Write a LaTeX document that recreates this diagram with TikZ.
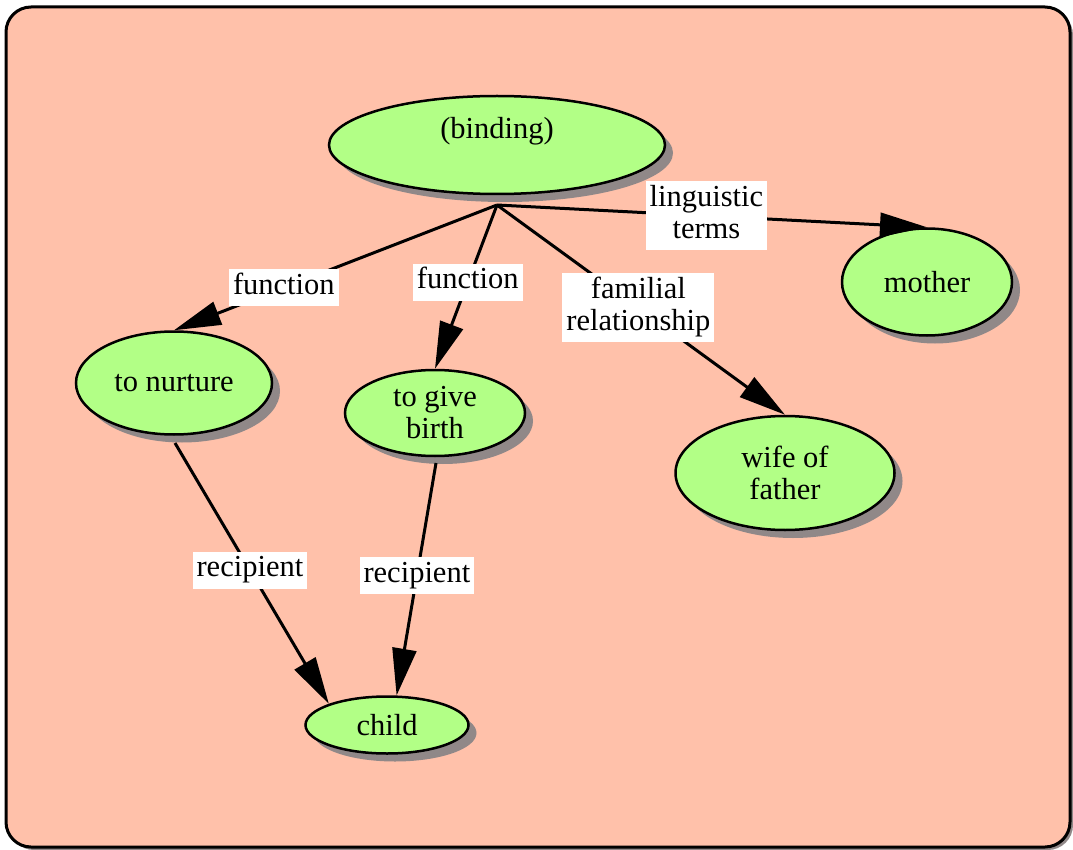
\documentclass[tikz,border=0pt]{standalone}
\usepackage{fontspec}
\setmainfont{Liberation Serif}
\usetikzlibrary{shapes.geometric,arrows.meta,shadows}
\definecolor{bgsalmon}{HTML}{FFC1AA}
\definecolor{nodegreen}{HTML}{B2FF86}
\definecolor{shadowgray}{HTML}{908888}
\tikzset{
  concept/.style={ellipse, draw=black, line width=2.5pt, fill=nodegreen, inner sep=0pt,
    align=center, font=\fontsize{30.5}{32}\selectfont,
    drop shadow={shadow xshift=8pt, shadow yshift=-8pt, fill=shadowgray, opacity=1}},
  link/.style={draw=black, line width=3pt, -{Triangle[length=47pt,width=24pt]}},
  lbl/.style={fill=white, inner xsep=4pt, inner ysep=2.5pt, align=center, font=\fontsize{30.5}{32}\selectfont}
}
\begin{document}
\begin{tikzpicture}[x=1pt,y=-1pt]
\useasboundingbox (0,0) rectangle (1073,850);
% frame
\fill[shadowgray, rounded corners=25pt] (9,10) rectangle (1073,850);
\draw[fill=bgsalmon, line width=3pt, rounded corners=25pt] (6,7) rectangle (1070,847);
% nodes
\node[concept, minimum width=336pt, minimum height=98pt, text height=21pt, text depth=33pt] (binding) at (497,145) {(binding)};
\node[concept, minimum width=170pt, minimum height=107pt] (mother) at (927,282) {mother};
\node[concept, minimum width=196pt, minimum height=103pt] (nurture) at (174,383) {to nurture};
\node[concept, minimum width=180pt, minimum height=86pt] (birth) at (435,413) {to give\\birth};
\node[concept, minimum width=219pt, minimum height=114pt] (wife) at (785,473) {wife of\\father};
\node[concept, minimum width=163pt, minimum height=57pt] (child) at (387,725) {child};
% edge origins
\coordinate (bs) at (497,205);
\coordinate (ns) at (175,443);
\coordinate (gs) at (436,463);
% edges
\draw[link] (bs) -- node[lbl, pos=0.487] {\strut linguistic\\\strut terms} (mother.north);
\draw[link] (bs) -- node[lbl, pos=0.66] {\strut function} (nurture.north);
\draw[link] (bs) -- node[lbl, pos=0.473] {\strut function} (birth.north);
\draw[link] (bs) -- node[lbl, pos=0.491] {\strut familial\\\strut relationship} (wife.north);
\draw[link] (ns) -- node[lbl, pos=0.487] {\strut recipient} (child.160);
\draw[link] (gs) -- node[lbl, pos=0.485] {\strut recipient} (child.72);
\end{tikzpicture}
\end{document}
